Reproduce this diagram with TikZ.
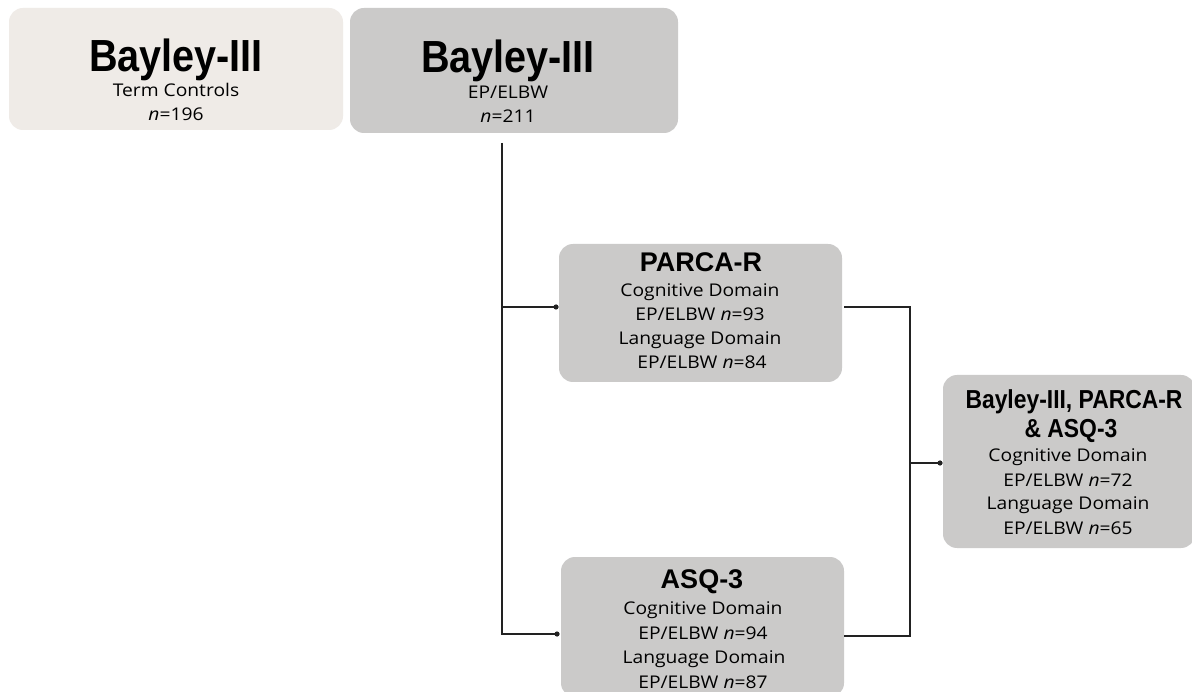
\documentclass[tikz,border=0pt]{standalone}
\usepackage{fontspec}
\setmainfont[FakeStretch=1.1]{Open Sans}
\newfontfamily\titlefont[FakeStretch=0.88]{Liberation Sans}
\newfontfamily\titlefontw{Liberation Sans}
\begin{document}
\begin{tikzpicture}[x=1pt,y=-1pt,
  box/.style={rounded corners=14pt, draw=none, inner sep=0pt},
  lightbox/.style={box, fill=boxlight},
  graybox/.style={box, fill=boxgray},
  bigtitle/.style={anchor=base, inner sep=0pt, font=\titlefont\bfseries\fontsize{45}{48}\selectfont},
  midtitle/.style={anchor=base, inner sep=0pt, font=\titlefontw\bfseries\fontsize{27}{30}\selectfont},
  combotitle/.style={anchor=base, inner sep=0pt, font=\titlefont\bfseries\fontsize{26}{30}\selectfont},
  bodytext/.style={anchor=base, inner sep=0pt, font=\fontsize{17.5}{24}\selectfont},
  conn/.style={draw=linecol, line width=1.1pt},
  dotc/.style={fill=linecol, draw=none}
]
\definecolor{boxlight}{HTML}{EFEBE7}
\definecolor{boxgray}{HTML}{CBCAC9}
\definecolor{linecol}{HTML}{222222}
\useasboundingbox[fill=white] (0,0) rectangle (1192,692);

% boxes
\node[lightbox, minimum width=334pt, minimum height=122pt] (b1) at (176,69) {};
\node[graybox, minimum width=328pt, minimum height=125pt] (b2) at (514,70.5) {};
\node[graybox, minimum width=283pt, minimum height=138pt] (parca) at (700.5,313) {};
\node[graybox, minimum width=252pt, minimum height=173pt] (combo) at (1069,461.5) {};
\node[graybox, minimum width=283pt, minimum height=140pt] (asq) at (702.5,627) {};

% texts box 1
\node[bigtitle] (b1t) at (176,72) {Bayley-III};
\node[bodytext] (b1l1) at (176,97) {Term Controls};
\node[bodytext] (b1l2) at (176,121) {\textit{n}=196};
% box 2
\node[bigtitle] (b2t) at (508,73) {Bayley-III};
\node[bodytext] (b2l1) at (508,99) {EP/ELBW};
\node[bodytext] (b2l2) at (508,123) {\textit{n}=211};
% parca
\node[midtitle] (pt) at (701,272) {PARCA-R};
\node[bodytext] (pl1) at (700,297) {Cognitive Domain};
\node[bodytext] (pl2) at (700,321) {EP/ELBW \textit{n}=93};
\node[bodytext] (pl3) at (700,345) {Language Domain};
\node[bodytext] (pl4) at (702,369) {EP/ELBW \textit{n}=84};
% combo
\node[combotitle] (ct1) at (1074,409) {Bayley-III, PARCA-R};
\node[combotitle] (ct2) at (1071,438) {\& ASQ-3};
\node[bodytext] (cl1) at (1068,462) {Cognitive Domain};
\node[bodytext] (cl2) at (1068,486) {EP/ELBW \textit{n}=72};
\node[bodytext] (cl3) at (1068,510) {Language Domain};
\node[bodytext] (cl4) at (1068,534) {EP/ELBW \textit{n}=65};
% asq
\node[midtitle] (at) at (702,588) {ASQ-3};
\node[bodytext] (al1) at (703,614) {Cognitive Domain};
\node[bodytext] (al2) at (703,639) {EP/ELBW \textit{n}=94};
\node[bodytext] (al3) at (704,663) {Language Domain};
\node[bodytext] (al4) at (703,688) {EP/ELBW \textit{n}=87};

% connector coordinates
\coordinate (sTop) at (502,143);
\coordinate (sP) at (502,307);
\coordinate (sBot) at (502,634);
\coordinate (pDot) at (556,307);
\coordinate (aDot) at (557,634);
\coordinate (pR) at (844,307);
\coordinate (aR) at (844,636);
\coordinate (jTop) at (910,307);
\coordinate (jBot) at (910,636);
\coordinate (jMid) at (910,463);
\coordinate (cDot) at (940,463);

\draw[conn] (sTop) -- (sBot) -- (aDot);
\draw[conn] (sP) -- (pDot);
\draw[conn] (pR) -- (jTop) -- (jBot) -- (aR);
\draw[conn] (jMid) -- (cDot);
\fill[dotc] (pDot) circle (2.6pt);
\fill[dotc] (aDot) circle (2.6pt);
\fill[dotc] (cDot) circle (2.6pt);
\end{tikzpicture}
\end{document}
